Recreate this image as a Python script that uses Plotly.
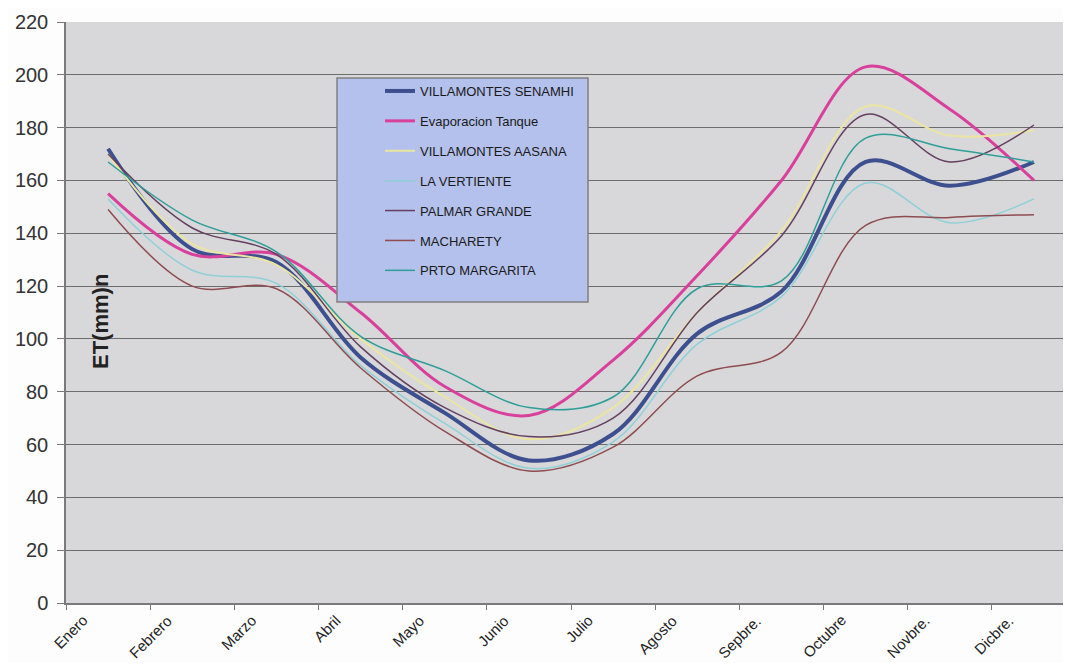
import plotly.graph_objects as go

meses = ["Enero", "Febrero", "Marzo", "Abril", "Mayo", "Junio", "Julio",
         "Agosto", "Sepbre.", "Octubre", "Novbre.", "Dicbre."]

villamontes_senamhi = [172, 134, 129, 93, 72, 54, 64, 102, 118, 167, 158, 167]
evaporacion_tanque = [155, 132, 132, 110, 82, 71, 92, 124, 160, 203, 187, 160]
villamontes_aasana = [170, 136, 128, 100, 78, 62, 74, 110, 141, 188, 177, 179]
la_vertiente = [153, 126, 121, 90, 68, 51, 61, 98, 116, 159, 144, 153]
palmar_grande = [170, 142, 132, 97, 74, 63, 70, 110, 139, 185, 167, 181]
macharety = [149, 120, 119, 89, 65, 50, 59, 86, 95, 143, 146, 147]
prto_margarita = [167, 145, 133, 101, 88, 74, 78, 119, 122, 176, 172, 167]

series = [
    ("VILLAMONTES SENAMHI", villamontes_senamhi, "#3d4f8e", 4),
    ("Evaporacion Tanque", evaporacion_tanque, "#d8409c", 3),
    ("VILLAMONTES AASANA", villamontes_aasana, "#ebe5a2", 2),
    ("LA VERTIENTE", la_vertiente, "#8fd0d8", 1.5),
    ("PALMAR GRANDE", palmar_grande, "#643f5f", 1.5),
    ("MACHARETY", macharety, "#8e4c50", 1.5),
    ("PRTO MARGARITA", prto_margarita, "#2f9e98", 1.5),
]

fig = go.Figure()
for name, vals, color, width in series:
    fig.add_trace(go.Scatter(x=meses, y=vals, name=name, mode="lines",
                             legendgroup=name,
                             line=dict(color=color, width=width, shape="spline", smoothing=1.0)))

# page pixel -> paper coords (plot area 66..1071 x 22..603 on the page)
def px(x):
    return (x - 66) / 1005.0

def py(y):
    return (603 - y) / 581.0

# month labels, rotated and sitting a bit left of each category like Excel does
month_labels = [dict(text=m, x=m, xref="x", y=0, yref="y",
                     xanchor="right", yanchor="top", xshift=-14, yshift=-6,
                     textangle=-45, showarrow=False,
                     font=dict(size=15, color="#222")) for m in meses]

fig.update_layout(
    width=1063, height=655,
    margin=dict(l=58, r=0, t=14, b=60),
    paper_bgcolor="#fdfdfd",
    plot_bgcolor="#d8d8da",
    font=dict(family="Liberation Sans, Arial, sans-serif", color="#222"),
    showlegend=True,
    legend=dict(x=px(380), y=py(76), xanchor="left", yanchor="top",
                bgcolor="rgba(0,0,0,0)", borderwidth=0,
                font=dict(size=13, color="#1a1a1a"),
                tracegroupgap=10, traceorder="grouped"),
    shapes=[
        dict(type="rect", xref="paper", yref="paper", layer="above",
             x0=px(337), x1=px(588), y0=py(302), y1=py(78),
             fillcolor="#b4c1ec", line=dict(color="#808080", width=1.5)),
        dict(type="rect", xref="paper", yref="paper", layer="below",
             x0=px(3), x1=px(1090), y0=py(700), y1=py(5),
             fillcolor="rgba(0,0,0,0)", line=dict(color="#c8c8c8", width=1.5)),
    ],
    annotations=[
        dict(text="<b>ET(mm)n</b>", xref="paper", yref="paper",
             x=px(101), y=py(322), xanchor="center", yanchor="middle",
             textangle=-90, showarrow=False,
             font=dict(size=22, color="#222")),
    ] + month_labels,
)

fig.update_xaxes(
    type="category", range=[-0.5, 11.44],
    showline=True, linecolor="#7a7a7a", linewidth=1.5,
    ticks="outside", tickson="boundaries", ticklen=5, tickcolor="#7a7a7a",
    showticklabels=False,
    showgrid=False, zeroline=False,
)
fig.update_yaxes(
    range=[0, 220], dtick=20,
    showline=True, linecolor="#7a7a7a", linewidth=1.5,
    ticks="outside", ticklen=7, tickcolor="#7a7a7a",
    ticklabelstandoff=5,
    tickfont=dict(size=20, color="#333"),
    showgrid=True, gridcolor="#6c6c6c", gridwidth=1,
    zeroline=False,
)

fig.write_html("out.html")
